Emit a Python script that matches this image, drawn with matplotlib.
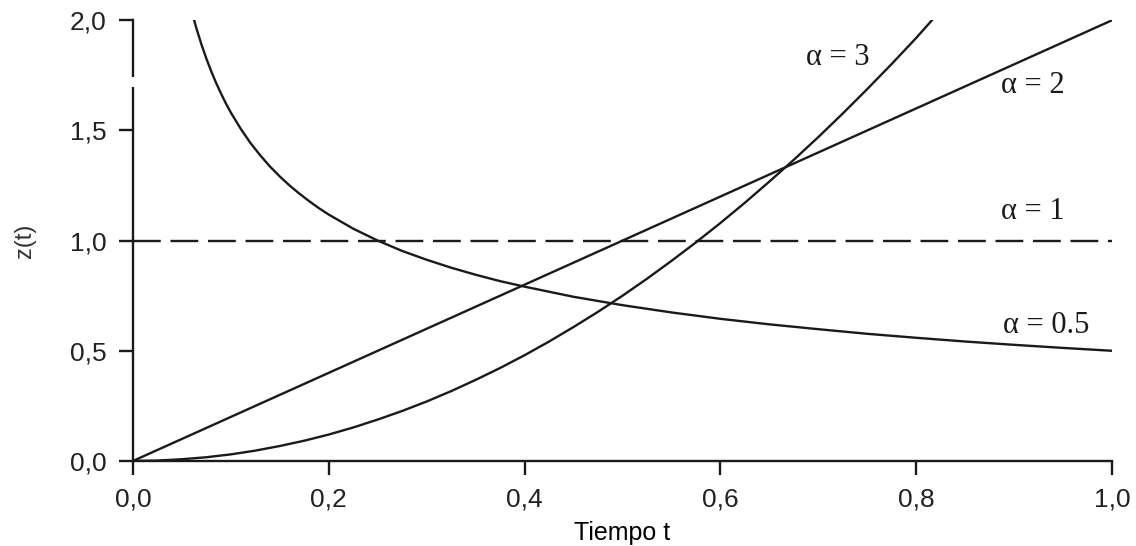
import numpy as np
import matplotlib
matplotlib.use("Agg")
import matplotlib.pyplot as plt

plt.rcParams['font.family'] = ['Liberation Sans', 'DejaVu Sans']
plt.rcParams['lines.scale_dashes'] = False

# valores
t_05 = [0.0625, 0.065, 0.07, 0.075, 0.08, 0.085, 0.09, 0.095, 0.10, 0.11,
        0.12, 0.13, 0.14, 0.15, 0.16, 0.17, 0.18, 0.19, 0.20, 0.225, 0.25,
        0.275, 0.30, 0.325, 0.35, 0.375, 0.40, 0.45, 0.50, 0.55, 0.60, 0.65,
        0.70, 0.75, 0.80, 0.85, 0.90, 0.95, 1.00]
z_05 = [2.000, 1.961, 1.890, 1.826, 1.768, 1.715, 1.667, 1.622, 1.581, 1.508,
        1.443, 1.387, 1.336, 1.291, 1.250, 1.213, 1.179, 1.147, 1.118, 1.054,
        1.000, 0.953, 0.913, 0.877, 0.845, 0.816, 0.791, 0.745, 0.707, 0.674,
        0.645, 0.620, 0.598, 0.577, 0.559, 0.542, 0.527, 0.513, 0.500]

t_1 = [0.0, 1.0]
z_1 = [1.0, 1.0]

t_2 = [0.0, 1.0]
z_2 = [0.0, 2.0]

t_3 = [0.0, 0.025, 0.05, 0.075, 0.10, 0.125, 0.15, 0.175, 0.20, 0.225, 0.25,
       0.275, 0.30, 0.325, 0.35, 0.375, 0.40, 0.425, 0.45, 0.475, 0.50,
       0.525, 0.55, 0.575, 0.60, 0.625, 0.65, 0.675, 0.70, 0.725, 0.75,
       0.775, 0.80, 0.816]
z_3 = [0.0, 0.002, 0.008, 0.017, 0.030, 0.047, 0.068, 0.092, 0.120, 0.152,
       0.188, 0.227, 0.270, 0.317, 0.368, 0.422, 0.480, 0.542, 0.608, 0.677,
       0.750, 0.827, 0.908, 0.992, 1.080, 1.172, 1.268, 1.367, 1.470, 1.577,
       1.688, 1.802, 1.920, 2.000]

xticks = [0.0, 0.2, 0.4, 0.6, 0.8, 1.0]
xticklabels = ['0,0', '0,2', '0,4', '0,6', '0,8', '1,0']
yticks = [0.0, 0.5, 1.0, 1.5, 2.0]
yticklabels = ['0,0', '0,5', '1,0', '1,5', '2,0']

# etiquetas de las curvas (texto, t, z)
etiquetas = [('\u03b1 = 3', 0.72, 1.83),
             ('\u03b1 = 2', 0.919, 1.705),
             ('\u03b1 = 1', 0.919, 1.13),
             ('\u03b1 = 0.5', 0.933, 0.617)]

fig = plt.figure(figsize=(11.36, 5.46), dpi=100)
ax = fig.add_axes([0.117, 0.1557, 0.862, 0.8073])

col = '#1a1a1a'
lw = 1.7
ax.plot(t_05, z_05, color=col, lw=lw)
ax.plot(t_1, z_1, color=col, lw=lw, dashes=(20, 7))
ax.plot(t_2, z_2, color=col, lw=lw)
ax.plot(t_3, z_3, color=col, lw=lw)

for txt, x, y in etiquetas:
    ax.text(x, y, txt, fontsize=22, color=col, ha='center', va='center',
            family='Liberation Serif')

ax.set_xlim(0, 1)
ax.set_ylim(0, 2)
ax.spines['top'].set_visible(False)
ax.spines['right'].set_visible(False)
for s in ['left', 'bottom']:
    ax.spines[s].set_linewidth(1.7)
    ax.spines[s].set_color(col)

# hueco en el eje vertical (como en el original)
ax.plot([0, 0], [1.696, 1.741], color='white', lw=4, clip_on=False,
        zorder=5, solid_capstyle='butt')

ax.set_xticks(xticks)
ax.set_xticklabels(xticklabels)
ax.set_yticks(yticks)
ax.set_yticklabels(yticklabels)
ax.tick_params(axis='both', direction='out', length=10, width=1.7,
               color=col, labelsize=19, labelcolor='#222222')
ax.tick_params(axis='y', pad=9)
ax.tick_params(axis='x', pad=9)

ax.set_xlabel('Tiempo t', fontsize=18, labelpad=7, color='black')
ax.set_ylabel('z(t)', fontsize=17, labelpad=24, color='#333333')

fig.savefig('out.png', dpi=100)
